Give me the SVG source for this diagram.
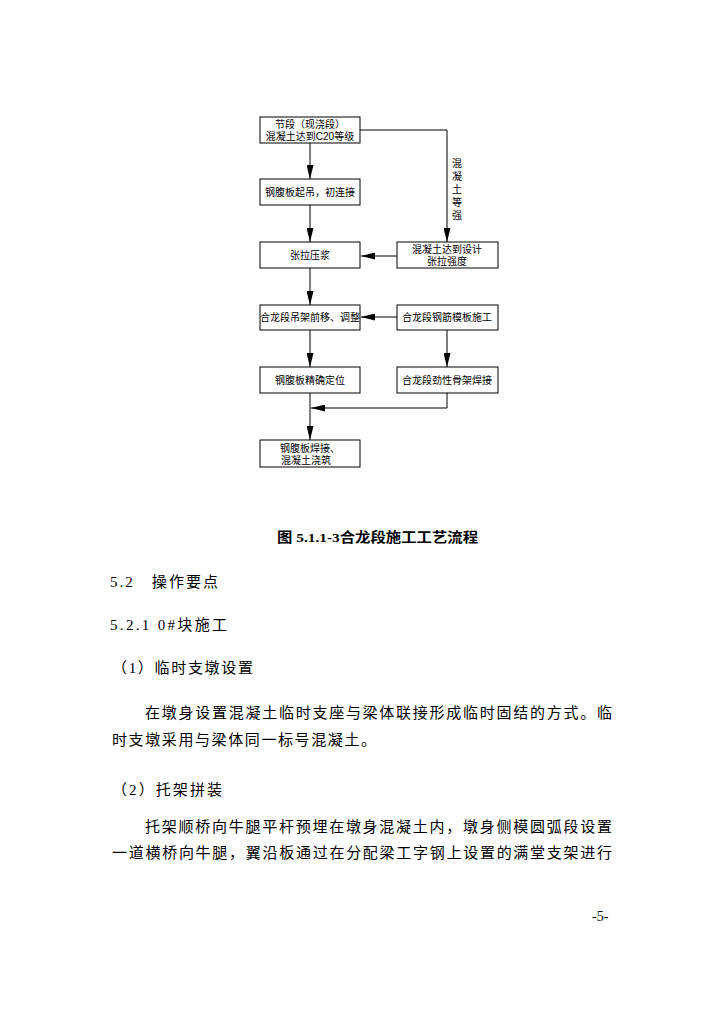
<svg xmlns="http://www.w3.org/2000/svg" width="724" height="1024" viewBox="0 0 724 1024">
<style>
.box{fill:#fff;stroke:#000;stroke-width:1}
.bt{font-family:"Liberation Sans","Noto Sans CJK SC",sans-serif;font-size:10px;fill:#000;text-anchor:middle}
.ln{fill:none;stroke:#000;stroke-width:1}
.body{font-family:"Liberation Serif","Noto Sans CJK SC",serif;font-size:15px;fill:#000}
.cap{font-family:"Liberation Serif","Noto Sans CJK SC",serif;font-size:13.5px;font-weight:bold;fill:#000}
</style>
<defs>
<marker id="ah" viewBox="0 0 14 7" refX="14" refY="3.5" markerWidth="14" markerHeight="7" markerUnits="userSpaceOnUse" orient="auto">
<path d="M0,0 L14,3.5 L0,7 Z" fill="#000"/>
</marker>
</defs>
<rect width="724" height="1024" fill="#fff"/>
<g id="connectors">
<line class="ln" x1="310" y1="143" x2="310" y2="179" marker-end="url(#ah)"/>
<polyline class="ln" points="360,130 447,130 447,242" marker-end="url(#ah)"/>
<line class="ln" x1="310" y1="205" x2="310" y2="242" marker-end="url(#ah)"/>
<line class="ln" x1="397" y1="256" x2="361" y2="256" marker-end="url(#ah)"/>
<line class="ln" x1="310" y1="268" x2="310" y2="305" marker-end="url(#ah)"/>
<line class="ln" x1="397" y1="317" x2="361" y2="317" marker-end="url(#ah)"/>
<line class="ln" x1="310" y1="330" x2="310" y2="367" marker-end="url(#ah)"/>
<line class="ln" x1="447" y1="330" x2="447" y2="367" marker-end="url(#ah)"/>
<line class="ln" x1="310" y1="393" x2="310" y2="440" marker-end="url(#ah)"/>
<polyline class="ln" points="447,393 447,408 311,408" marker-end="url(#ah)"/>
</g>
<g id="n1"><rect class="box" x="260" y="117" width="100" height="26"/>
<text class="bt" x="310" y="128">节段（现浇段）</text><text class="bt" x="310" y="140">混凝土达到C20等级</text></g>
<g id="n2"><rect class="box" x="260" y="179" width="100" height="26"/>
<text class="bt" x="310" y="196">钢腹板起吊，初连接</text></g>
<g id="lbl"><text class="bt" x="457" y="167">混</text><text class="bt" x="457" y="180">凝</text><text class="bt" x="457" y="193">土</text><text class="bt" x="457" y="206">等</text><text class="bt" x="457" y="219">强</text></g>
<g id="n3"><rect class="box" x="260" y="242" width="100" height="26"/>
<text class="bt" x="310" y="259">张拉压浆</text></g>
<g id="n4"><rect class="box" x="397" y="242" width="101" height="26"/>
<text class="bt" x="447" y="253">混凝土达到设计</text><text class="bt" x="447" y="265">张拉强度</text></g>
<g id="n5"><rect class="box" x="260" y="305" width="100" height="25"/>
<text class="bt" x="310" y="321">合龙段吊架前移、调整</text></g>
<g id="n6"><rect class="box" x="397" y="305" width="101" height="25"/>
<text class="bt" x="447" y="321">合龙段钢筋模板施工</text></g>
<g id="n7"><rect class="box" x="260" y="367" width="100" height="26"/>
<text class="bt" x="310" y="384">钢腹板精确定位</text></g>
<g id="n8"><rect class="box" x="397" y="367" width="101" height="26"/>
<text class="bt" x="447" y="384">合龙段劲性骨架焊接</text></g>
<g id="n9"><rect class="box" x="260" y="440" width="100" height="27"/>
<text class="bt" x="310" y="452">钢腹板焊接、</text><text class="bt" x="306" y="464">混凝土浇筑</text></g>
<text class="cap" x="277" y="542" textLength="201" lengthAdjust="spacingAndGlyphs">图 5.1.1-3合龙段施工工艺流程</text>
<text class="body" x="110" y="587" textLength="108" lengthAdjust="spacing">5.2　操作要点</text>
<text class="body" x="110" y="630" textLength="117" lengthAdjust="spacing">5.2.1 0#块施工</text>
<text class="body" x="112" y="673" textLength="141" lengthAdjust="spacing">（1）临时支墩设置</text>
<text class="body" x="145" y="718" textLength="467" lengthAdjust="spacing">在墩身设置混凝土临时支座与梁体联接形成临时固结的方式。临</text>
<text class="body" x="112" y="745" textLength="264" lengthAdjust="spacing">时支墩采用与梁体同一标号混凝土。</text>
<text class="body" x="112" y="795" textLength="110" lengthAdjust="spacing">（2）托架拼装</text>
<text class="body" x="145" y="832" textLength="467" lengthAdjust="spacing">托架顺桥向牛腿平杆预埋在墩身混凝土内，墩身侧模圆弧段设置</text>
<text class="body" x="112" y="858" textLength="500" lengthAdjust="spacing">一道横桥向牛腿，翼沿板通过在分配梁工字钢上设置的满堂支架进行</text>
<text class="body" x="592" y="921" style="font-size:14px">-5-</text>
</svg>
